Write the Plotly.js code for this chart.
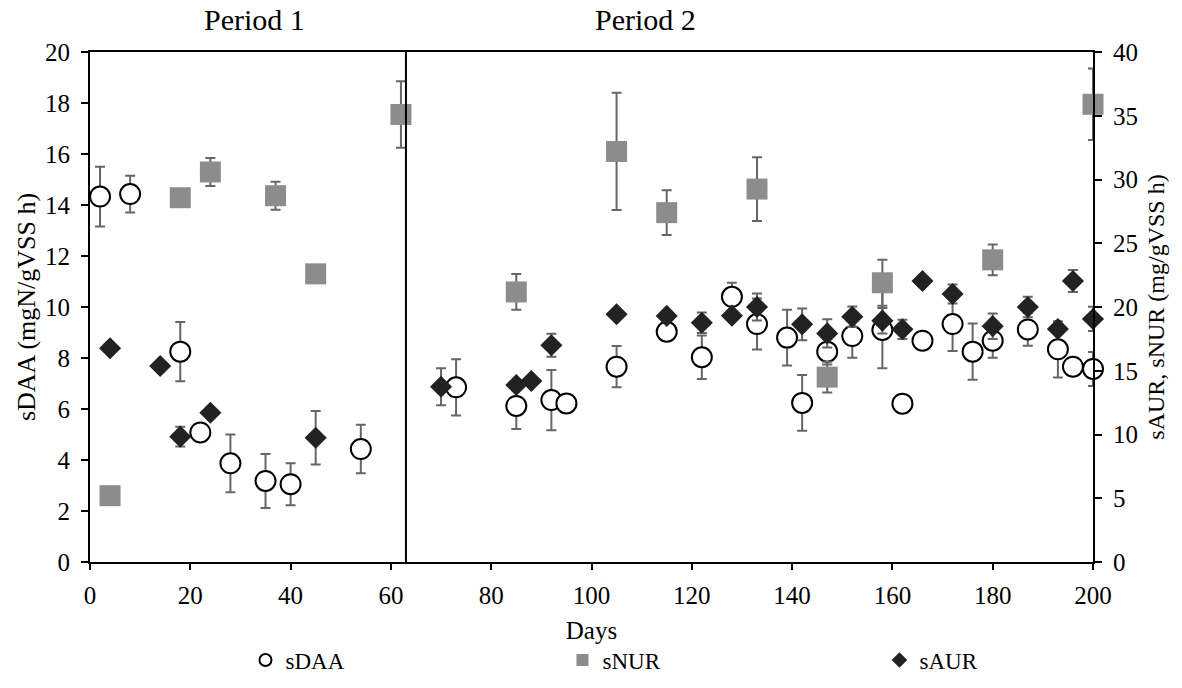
<!DOCTYPE html>
<html>
<head>
<meta charset="utf-8">
<script src="https://cdn.plot.ly/plotly-3.0.1.min.js"></script>
<style>html,body{margin:0;padding:0;background:#fff;}#chart{width:1182px;height:688px;}</style>
</head>
<body>
<div id="chart"></div>
<script>
// sDAA (left axis, mgN/gVSS h)
var daaDays = [2, 8, 18, 22, 28, 35, 40, 54, 73, 85, 92, 95, 105, 115, 122, 128, 133, 139, 142, 147, 152, 158, 162, 166, 172, 176, 180, 187, 193, 196, 200];
var daaVals = [14.33, 14.43, 8.25, 5.08, 3.87, 3.18, 3.05, 4.43, 6.85, 6.12, 6.35, 6.22, 7.66, 9.03, 8.03, 10.4, 9.33, 8.8, 6.24, 8.25, 8.86, 9.1, 6.21, 8.68, 9.33, 8.25, 8.68, 9.12, 8.34, 7.66, 7.57];
var daaErr  = [1.17, 0.72, 1.16, 0, 1.13, 1.06, 0.82, 0.95, 1.1, 0.9, 1.18, 0, 0.81, 0, 0.85, 0.55, 1.0, 1.09, 1.09, 0.5, 0.85, 1.5, 0, 0, 1.06, 1.1, 0.67, 0.64, 1.1, 0, 0.67];

// sNUR (right axis, mg/gVSS h)
var nurDays = [4, 18, 24, 37, 45, 62, 85, 105, 115, 133, 147, 158, 180, 200];
var nurVals = [5.2, 28.57, 30.59, 28.73, 22.6, 35.1, 21.18, 32.2, 27.4, 29.25, 14.5, 21.9, 23.7, 35.9];
var nurErr  = [0, 0, 1.1, 1.1, 0, 2.6, 1.4, 4.6, 1.75, 2.5, 1.2, 1.8, 1.2, 2.8];

// sAUR (right axis, mg/gVSS h)
var aurDays = [4, 14, 18, 24, 45, 70, 85, 88, 92, 105, 115, 122, 128, 133, 142, 147, 152, 158, 162, 166, 172, 180, 187, 193, 196, 200];
var aurVals = [16.76, 15.37, 9.83, 11.71, 9.75, 13.75, 13.88, 14.2, 17.0, 19.43, 19.3, 18.77, 19.32, 20.0, 18.64, 17.93, 19.24, 18.93, 18.25, 22.04, 21.02, 18.5, 20.0, 18.27, 22.04, 19.06];
var aurErr  = [0, 0, 0.77, 0, 2.1, 1.45, 0, 0, 0.9, 0, 0, 0.8, 0, 1.05, 1.25, 1.1, 0.8, 1.0, 0.75, 0, 0.75, 1.0, 0.8, 0, 0.87, 0.95];

var periodLabels = ['Period 1', 'Period 2'];
var periodPos = [32.9, 110.7];
var periodSplit = 63;

var FONT = 'Liberation Serif';
var errStyle = function (arr) {
  return {type: 'data', array: arr, visible: true, color: '#666666', thickness: 2, width: 5};
};

var traces = [
  {
    x: daaDays, y: daaVals, name: 'sDAA', type: 'scatter', mode: 'markers', cliponaxis: false,
    yaxis: 'y', error_y: errStyle(daaErr),
    marker: {symbol: 'circle', size: 20, color: '#ffffff', line: {color: '#000000', width: 2}}
  },
  {
    x: nurDays, y: nurVals, name: 'sNUR', type: 'scatter', mode: 'markers', cliponaxis: false,
    yaxis: 'y2', error_y: errStyle(nurErr),
    marker: {symbol: 'square', size: 21, color: '#8c8c8c', line: {width: 0}}
  },
  {
    x: aurDays, y: aurVals, name: 'sAUR', type: 'scatter', mode: 'markers', cliponaxis: false,
    yaxis: 'y2', error_y: errStyle(aurErr),
    marker: {symbol: 'diamond', size: 17, color: '#222222', line: {width: 0}}
  }
];

var annotations = periodLabels.map(function (t, i) {
  return {text: t, x: periodPos[i], xref: 'x', y: 1.063, yref: 'paper', showarrow: false,
          xanchor: 'center', yanchor: 'middle', font: {family: FONT, size: 30, color: '#000'}};
});

var layout = {
  width: 1182, height: 688,
  margin: {l: 90, r: 89, t: 52, b: 126, autoexpand: false},
  paper_bgcolor: '#fff', plot_bgcolor: '#fff',
  font: {family: FONT, size: 24, color: '#000'},
  showlegend: true,
  legend: {orientation: 'h', x: 0.155, xanchor: 'left', y: -0.15, yanchor: 'top',
           entrywidth: 272, entrywidthmode: 'pixels', itemsizing: 'constant',
           font: {family: FONT, size: 23, color: '#000'}},
  xaxis: {
    range: [0, 200], dtick: 20, tick0: 0, showgrid: false, zeroline: false,
    showline: true, linecolor: '#000', linewidth: 2, mirror: true,
    ticks: 'outside', ticklen: 6, tickwidth: 2, tickcolor: '#000', ticklabelstandoff: 4,
    title: {text: 'Days', font: {family: FONT, size: 25}, standoff: 13},
    tickfont: {family: FONT, size: 25}
  },
  yaxis: {
    range: [0, 20], dtick: 2, tick0: 0, showgrid: false, zeroline: false,
    showline: true, linecolor: '#000', linewidth: 2,
    ticks: 'outside', ticklen: 7, tickwidth: 2, tickcolor: '#000', ticklabelstandoff: 6,
    title: {text: 'sDAA (mgN/gVSS h)', font: {family: FONT, size: 26}, standoff: 2},
    tickfont: {family: FONT, size: 25}
  },
  yaxis2: {
    range: [0, 40], dtick: 5, tick0: 0, overlaying: 'y', side: 'right',
    showgrid: false, zeroline: false,
    showline: true, linecolor: '#000', linewidth: 2,
    ticks: 'outside', ticklen: 7, tickwidth: 2, tickcolor: '#000', ticklabelstandoff: 6,
    title: {text: 'sAUR, sNUR (mg/gVSS h)', font: {family: FONT, size: 24}, standoff: 10},
    tickfont: {family: FONT, size: 25}
  },
  shapes: [{type: 'line', xref: 'x', yref: 'paper', x0: periodSplit, x1: periodSplit, y0: 0, y1: 1,
            line: {color: '#000', width: 2}, layer: 'above'}],
  annotations: annotations
};

Plotly.newPlot('chart', traces, layout, {displayModeBar: false, staticPlot: true});
</script>
</body>
</html>
